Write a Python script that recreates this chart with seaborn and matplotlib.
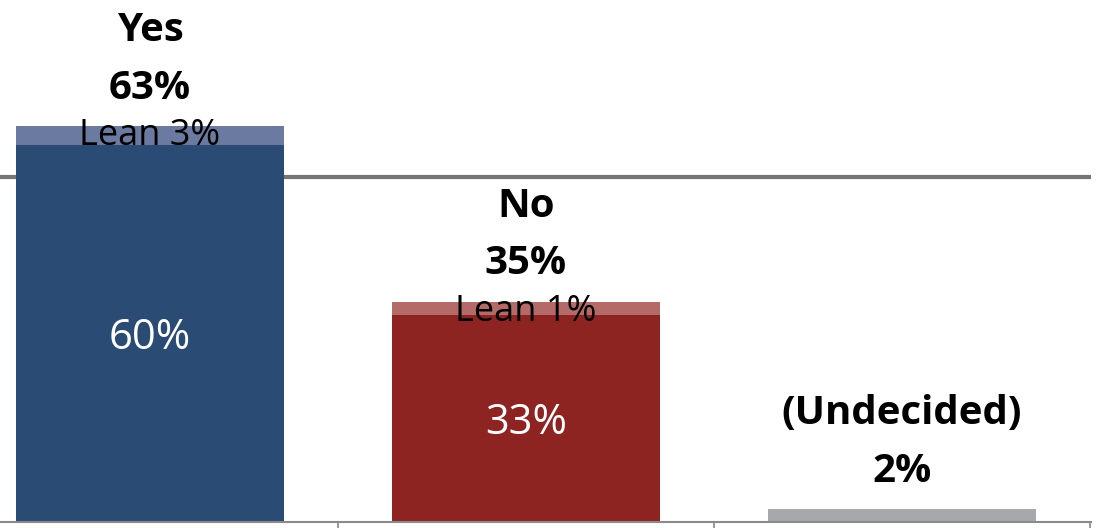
import matplotlib
matplotlib.use("Agg")
import matplotlib.pyplot as plt
import seaborn as sns
import pandas as pd

categories = ["Yes", "No", "(Undecided)"]
totals = [63, 35, 2]
base = [60, 33, 2]
lean = [3, 1, 0]
total_labels = ["63%", "35%", "2%"]
base_labels = ["60%", "33%", ""]
lean_labels = ["Lean 3%", "Lean 1%", ""]
reference_level = 55

dark_colors = ["#2A4C74", "#8E2422", "#A7A8AB"]
light_colors = ["#6A7AA0", "#B46A67", "#A7A8AB"]

sns.set_theme(style="white")
plt.rcParams["font.family"] = ["Open Sans", "DejaVu Sans"]

df = pd.DataFrame({"cat": categories, "total": totals, "base": base})

fig = plt.figure(figsize=(10.97, 5.28), dpi=100)
ax = fig.add_axes([0, 6 / 528, 1091 / 1097, 522 / 528])

sns.barplot(data=df, x="cat", y="total", hue="cat", palette=light_colors,
            width=0.713, ax=ax, legend=False, saturation=1, linewidth=0,
            edgecolor="none")
sns.barplot(data=df, x="cat", y="base", hue="cat", palette=dark_colors,
            width=0.713, ax=ax, legend=False, saturation=1, linewidth=0,
            edgecolor="none")

ax.set_xlim(-0.399, 2.503)
ax.set_ylim(0, 83.1)
ax.axhline(reference_level, color="#767676", lw=3, zorder=0)

for i, cat in enumerate(categories):
    t = totals[i]
    ax.annotate(total_labels[i], (i, t), xytext=(0, 27.5), textcoords="offset points",
                ha="center", va="center", fontsize=29, fontweight="bold", color="black")
    ax.annotate(cat, (i, t), xytext=(0, 69), textcoords="offset points",
                ha="center", va="center", fontsize=29, fontweight="bold", color="black")
    if base_labels[i]:
        ax.annotate(base_labels[i], (i, base[i] / 2), xytext=(0, -3.5),
                    textcoords="offset points", ha="center", va="center",
                    fontsize=30, color="white")
    if lean_labels[i]:
        ax.text(i, base[i] + lean[i] / 2, lean_labels[i], ha="center", va="center",
                fontsize=26, color="black")

ax.set_xticks([0.5, 1.5, 2.5])
ax.set_xticklabels([])
ax.set_yticks([])
ax.set_xlabel("")
ax.set_ylabel("")
ax.tick_params(axis="x", direction="out", length=5, width=1.2, color="#8a8a8a", bottom=True)
for s in ["left", "top", "right"]:
    ax.spines[s].set_visible(False)
ax.spines["bottom"].set_color("#8a8a8a")
ax.spines["bottom"].set_linewidth(1.5)

fig.savefig("out.png", dpi=100)
